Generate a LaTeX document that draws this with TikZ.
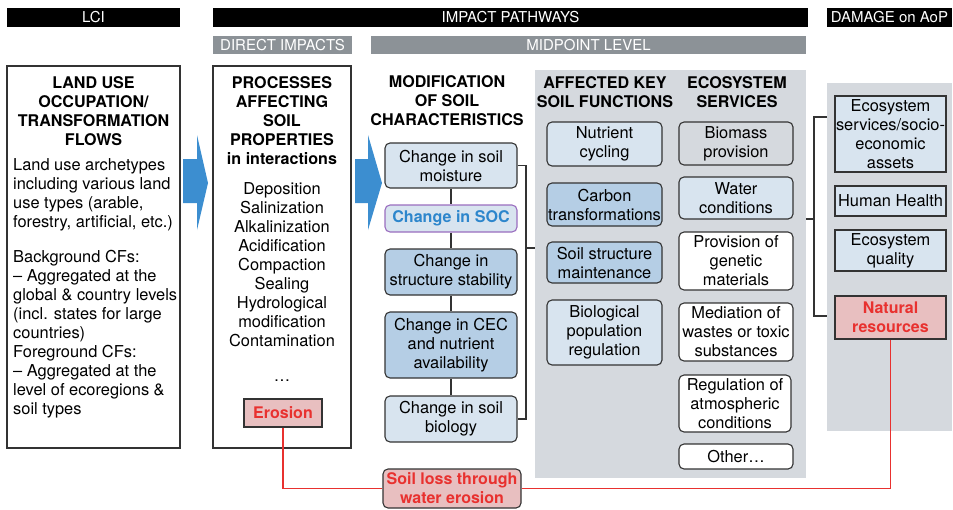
\documentclass[tikz,border=0pt]{standalone}
\usepackage{fontspec}
\setmainfont{TeX Gyre Heros}
\usetikzlibrary{positioning}
\definecolor{PaleBlue}{HTML}{D8E4EF}
\definecolor{MidBlue}{HTML}{B5CEE5}
\definecolor{PanelGray}{HTML}{D5D9DE}
\definecolor{BarGray}{HTML}{8C9297}
\definecolor{ErosionPink}{HTML}{E8BFC0}
\definecolor{ErosionRed}{HTML}{E8312F}
\definecolor{ArrowBlue}{HTML}{3C8ED0}
\definecolor{SocBlue}{HTML}{2D86CC}
\definecolor{SocPurple}{HTML}{9A6DBF}
\definecolor{LineGray}{HTML}{333333}

\begin{document}
\begin{tikzpicture}[x=1pt,y=-1pt,
  every node/.style={inner sep=0pt,align=center,font=\fontsize{16.4}{19}\selectfont},
  blackbar/.style={fill=black,text=white,minimum height=19pt,font=\fontsize{15}{17}\selectfont},
  graybar/.style={fill=BarGray,text=white,minimum height=18pt,font=\fontsize{15}{17}\selectfont},
  panel/.style={fill=PanelGray},
  bigbox/.style={draw=LineGray,line width=1.2pt},
  chgbox/.style={draw=LineGray,line width=1.1pt,rounded corners=5pt,minimum width=132pt,fill=#1},
  chgbox/.default=PaleBlue,
  fnbox/.style={chgbox=#1,minimum width=115pt},
  fnbox/.default=PaleBlue,
  esbox/.style={chgbox=#1,minimum width=114pt},
  esbox/.default=white,
  dmgbox/.style={draw=LineGray,line width=1.1pt,minimum width=111pt,fill=#1},
  dmgbox/.default=PaleBlue,
  redtxt/.style={fill=ErosionPink,text=ErosionRed,font=\fontsize{16}{19}\selectfont\bfseries},
  link/.style={draw=LineGray,line width=1.1pt},
  redlink/.style={draw=ErosionRed,line width=1.5pt}]
\def\fb{\fontsize{16.1}{19}\selectfont}
\useasboundingbox (0,0) rectangle (953,509);

\node[blackbar,minimum width=173pt] (lcibar) at (93.5,17.5) {LCI};
\node[blackbar,minimum width=595pt] (impbar) at (510.5,17.5) {IMPACT PATHWAYS};
\node[blackbar,minimum width=125pt] (dmgbar) at (889.5,17.5) {DAMAGE on AoP};
\node[graybar,minimum width=139pt] (dirbar) at (282.5,45) {DIRECT IMPACTS};
\node[graybar,minimum width=435pt] (midbar) at (588.5,45) {MIDPOINT LEVEL};

\node[panel,minimum width=271pt,minimum height=408pt] (midpanel) at (670.5,274) {};
\node[panel,minimum width=125pt,minimum height=348pt] (dmgpanel) at (889.5,257) {};

% LCI
\node[bigbox,minimum width=173pt,minimum height=382pt] (lcibox) at (93.5,257) {};
\node[font=\fb\bfseries] (lcihead) at (93.5,111) {LAND USE\\OCCUPATION/\\TRANSFORMATION\\FLOWS};
\node[anchor=west,align=left] (lcitxt) at (13,194.5) {Land use archetypes\\including various land\\use types (arable,\\forestry, artificial, etc.)};
\node[anchor=west,align=left] (lcicfs) at (13,334.5) {Background CFs:\\– Aggregated at the\\global \& country levels\\(incl. states for large\\countries)\\Foreground CFs:\\– Aggregated at the\\level of ecoregions \&\\soil types};

\fill[ArrowBlue] (183,159) -- (197,159) -- (197,135) -- (208,183) -- (197,230) -- (197,203) -- (183,203) -- cycle;

% direct impacts
\node[bigbox,minimum width=138pt,minimum height=382pt] (procbox) at (282,257) {};
\node[font=\fb\bfseries] (prochead) at (282,120.5) {PROCESSES\\AFFECTING\\SOIL\\PROPERTIES\\in interactions};
\node (proclist) at (282,264.5) {Deposition\\Salinization\\Alkalinization\\Acidification\\Compaction\\Sealing\\Hydrological\\modification\\Contamination};
\node (procdots) at (282,381) {\ldots};
\node[redtxt,draw=LineGray,line width=1.1pt,minimum width=78pt,minimum height=28pt] (erosion) at (283,413) {Erosion};

\fill[ArrowBlue] (355,159) -- (368,159) -- (368,135) -- (382,183) -- (368,230) -- (368,203) -- (355,203) -- cycle;

% midpoint
\node[font=\fb\bfseries] (chghead) at (447,101) {MODIFICATION\\OF SOIL\\CHARACTERISTICS};
\node[chgbox,minimum height=45pt] (moist) at (451,165.5) {Change in soil\\moisture};
\node[chgbox,draw=SocPurple,text=SocBlue,font=\fb\bfseries,minimum height=27pt] (soc) at (451,218.5) {Change in SOC};
\node[chgbox=MidBlue,minimum height=46pt] (struct) at (451,272) {Change in\\structure stability};
\node[chgbox=MidBlue,minimum height=66pt] (cec) at (451,345) {Change in CEC\\and nutrient\\availability};
\node[chgbox,minimum height=46pt] (bio) at (451,419) {Change in soil\\biology};
\foreach \a/\b in {moist/soc,soc/struct,struct/cec,cec/bio}
  \draw[link] (\a) -- (\b);
\coordinate (chgjoin) at (526,248);
\draw[link] (moist.east) -| (chgjoin) |- (bio.east);
\draw[link] (chgjoin) -- (midpanel.west |- chgjoin);

\node[font=\fb\bfseries] (fnhead) at (605,92) {AFFECTED KEY\\SOIL FUNCTIONS};
\node[fnbox,minimum height=44pt] (nutr) at (604.5,144) {Nutrient\\cycling};
\node[fnbox=MidBlue,minimum height=43pt] (carb) at (604.5,204.5) {Carbon\\transformations};
\node[fnbox=MidBlue,minimum height=41pt] (sstr) at (604.5,262.5) {Soil structure\\maintenance};
\node[fnbox,minimum height=65pt] (biopop) at (604.5,332.5) {Biological\\population\\regulation};

\node[font=\fb\bfseries] (eshead) at (737,92) {ECOSYSTEM\\SERVICES};
\node[esbox=PanelGray,minimum height=43pt] (biomass) at (736,143.5) {Biomass\\provision};
\node[esbox=PaleBlue,minimum height=42pt] (water) at (736,198) {Water\\conditions};
\node[esbox,minimum height=58pt] (genetic) at (736,261) {Provision of\\genetic\\materials};
\node[esbox,minimum height=58pt] (mediation) at (736,332) {Mediation of\\wastes or toxic\\substances};
\node[esbox,minimum width=112pt,minimum height=57pt] (regul) at (735,403.5) {Regulation of\\atmospheric\\conditions};
\node[esbox,minimum height=25pt] (other) at (736,456.5) {Other\ldots};

% damage
\node[dmgbox,minimum height=76pt] (assets) at (890.5,134) {Ecosystem\\services/socio-\\economic\\assets};
\node[dmgbox,minimum height=30pt] (health) at (890.5,201) {Human Health};
\node[dmgbox,minimum height=41pt] (quality) at (890.5,250.5) {Ecosystem\\quality};
\node[dmgbox=ErosionPink,redtxt,minimum height=43pt] (natres) at (890.5,317.5) {Natural\\resources};
\coordinate (dmgjoin) at (814,219);
\coordinate (dmgtop) at (827,117);
\coordinate (dmgbot) at (827,316);
\draw[link] (midpanel.east |- dmgjoin) -- (dmgjoin);
\draw[link] (dmgtop) -| (dmgjoin) |- (dmgbot);

% erosion path
\node[redtxt,draw=LineGray,line width=1.1pt,rounded corners=5pt,minimum width=138pt,minimum height=39pt] (soilloss) at (452,488.5) {Soil loss through\\water erosion};
\draw[redlink] (erosion.south) |- (soilloss.west);
\draw[redlink] (soilloss.east) -| (natres.south);
\end{tikzpicture}
\end{document}
